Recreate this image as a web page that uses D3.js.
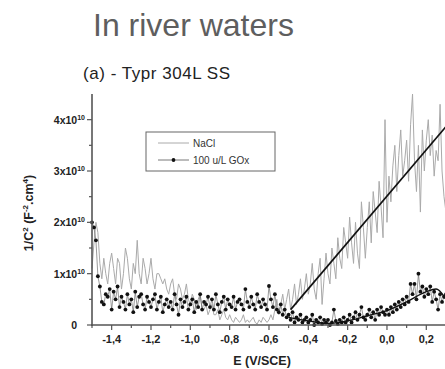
<!DOCTYPE html>
<html lang="en">
<head>
<meta charset="UTF-8"/>
<title>In river waters</title>
<script src="https://d3js.org/d3.v7.min.js"></script>
<style>
  body { margin: 0; background: #fff; }
  text { font-family: "Liberation Sans", Arial, sans-serif; }
</style>
</head>
<body>
<div id="chart"></div>
<script>
// potentials (V/SCE), one reading every 0.01 V from -1.50 to 0.30
const startE = -1.50, stepE = 0.01;

// 1/C^2 in units of 1e10 F^-2.cm^4
const naclValues = [
  1.1, 1.6, 2.0, 1.8, 1.2, 0.9, 1.3, 1.0, 0.8, 1.2,
  1.4, 1.1, 0.8, 1.3, 1.2, 0.7, 1.0, 1.5, 1.3, 0.9,
  0.7, 1.2, 1.0, 1.65, 1.0, 0.8, 1.3, 1.1, 0.8, 1.0,
  1.3, 0.9, 0.7, 1.0, 1.0, 0.9, 0.8, 0.9, 0.7, 0.6,
  0.8, 0.9, 0.6, 0.5, 0.8, 0.7, 0.5, 0.6, 0.8, 0.5,
  0.4, 0.6, 0.5, 0.3, 0.5, 0.6, 0.3, 0.3, 0.4, 0.2,
  0.3, 0.4, 0.2, 0.2, 0.3, 0.1, 0.2, 0.3, 0.15, 0.1,
  0.2, 0.1, 0.05, 0.15, 0.1, 0.05, 0.1, 0.2, 0.05, 0.1,
  0.05, 0.1, 0.15, 0.05, 0.02, 0.1, 0.05, 0.15, 0.1, 0.05,
  0.1, 0.2, 0.1, 0.3, 0.5, 0.2, 0.4, 0.6, 0.3, 0.5,
  0.7, 0.3, 0.5, 0.8, 0.4, 0.6, 0.9, 0.5, 0.7, 1.0,
  0.6, 0.8, 1.2, 0.7, 0.5, 1.0, 1.3, 0.4, 0.9, 1.4,
  1.0, 0.8, 1.5, 1.2, 0.9, 1.7, 1.3, 1.1, 1.9, 1.6,
  1.3, 2.1, 1.6, 1.2, 2.0, 1.4, 1.1, 2.4, 1.9, 1.3,
  1.9, 2.4, 1.6, 2.6, 2.2, 1.8, 2.8, 2.3, 1.7, 4.0,
  2.0, 2.9, 2.4, 3.1, 3.5, 2.6, 3.3, 3.8, 2.9, 3.2,
  3.6, 2.8, 3.9, 4.5, 3.2, 2.6, 3.5, 2.2, 3.8, 3.0,
  3.6, 4.0, 3.3, 3.7, 2.9, 3.4, 3.2, 4.3, 3.0, 2.5,
  2.2
];

const goxValues = [
  2.0, 1.9, 1.65, 0.95, 0.75, 0.45, 0.4, 0.6, 0.55, 0.7,
  0.3, 0.65, 0.5, 0.75, 0.35, 0.55, 0.45, 0.3, 0.6, 0.4,
  0.5, 0.25, 0.65, 0.35, 0.55, 0.6, 0.4, 0.3, 0.55, 0.45,
  0.35, 0.5, 0.6, 0.3, 0.45, 0.55, 0.25, 0.4, 0.5, 0.35,
  0.45, 0.3, 0.6, 0.4, 0.2, 0.5, 0.35, 0.45, 0.55, 0.3,
  0.4, 0.5, 0.25, 0.45, 0.35, 0.6, 0.3, 0.45, 0.4, 0.55,
  0.35, 0.5, 0.3, 0.6, 0.4, 0.25, 0.45, 0.55, 0.3, 0.5,
  0.4, 0.35, 0.55, 0.3, 0.45, 0.5, 0.4, 0.3, 0.7, 0.45,
  0.35, 0.55, 0.4, 0.3, 0.6, 0.45, 0.35, 0.5, 0.4, 0.3,
  0.76, 0.5, 0.35, 0.6, 0.3, 0.25, 0.4, 0.2, 0.3, 0.15,
  0.2, 0.1, 0.25, 0.05, 0.15, 0.1, 0.2, 0.05, 0.1, 0.15,
  0.05, 0.1, 0.2, 0.0, 0.1, 0.05, 0.15, 0.02, 0.1, 0.05,
  0.1, 0.0, 0.05, 0.3, 0.08, 0.02, 0.1, 0.05, 0.15, 0.05,
  0.1, 0.2, 0.05, 0.15, 0.25, 0.1, 0.2, 0.35, 0.15, 0.1,
  0.2, 0.3, 0.15, 0.25, 0.1, 0.3, 0.2, 0.35, 0.25, 0.2,
  0.3, 0.2, 0.35, 0.25, 0.4, 0.3, 0.45, 0.35, 0.5, 0.4,
  0.55, 0.45, 0.8, 0.6, 0.8, 0.5, 1.0, 0.65, 0.75, 0.55,
  0.7, 0.6, 0.75, 0.45, 0.65, 0.5, 0.3, 0.6, 0.45, 0.55,
  0.6
];

// straight Mott-Schottky fit on the NaCl curve
const naclFitE = [-0.49, 0.33];
const naclFitValues = [0.30, 4.0];

// smooth trend through the GOx points
const goxFitE = [-0.50, -0.40, -0.30, -0.20, -0.10, 0.00, 0.10, 0.20, 0.25, 0.30];
const goxFitValues = [0.15, 0.08, 0.03, 0.08, 0.18, 0.28, 0.45, 0.65, 0.70, 0.50];

const xTicks = [-1.4, -1.2, -1.0, -0.8, -0.6, -0.4, -0.2, 0.0, 0.2];
const yTicks = [0, 1, 2, 3, 4];

const W = 445, H = 369;
const svg = d3.select("#chart").append("svg")
  .attr("width", W).attr("height", H);

const x = d3.scaleLinear().domain([-1.5, 0.35]).range([92, 455.8]);
const y = d3.scaleLinear().domain([0, 4.5]).range([325, 94]);

const nacl = naclValues.map((v, i) => ({e: startE + i * stepE, v: v}));
const gox = goxValues.map((v, i) => ({e: startE + i * stepE, v: v}));

// titles
svg.append("text")
  .attr("x", 93).attr("y", 36)
  .attr("font-size", 32).attr("fill", "#5e5e5e")
  .text("In river waters");

svg.append("text")
  .attr("x", 83).attr("y", 79)
  .attr("font-size", 17).attr("fill", "#222")
  .attr("textLength", 147)
  .text("(a) - Typr 304L SS");

// data
const line = d3.line().x(d => x(d.e)).y(d => y(d.v));

svg.append("path")
  .datum(nacl)
  .attr("d", line)
  .attr("fill", "none")
  .attr("stroke", "#aaaaaa")
  .attr("stroke-width", 1);

svg.append("path")
  .datum(gox)
  .attr("d", line)
  .attr("fill", "none")
  .attr("stroke", "#555")
  .attr("stroke-width", 0.6);

svg.append("g").selectAll("circle")
  .data(gox)
  .join("circle")
    .attr("cx", d => x(d.e))
    .attr("cy", d => y(d.v))
    .attr("r", 1.9)
    .attr("fill", "#111");

svg.append("path")
  .datum(goxFitE.map((e, i) => ({e: e, v: goxFitValues[i]})))
  .attr("d", d3.line().curve(d3.curveMonotoneX).x(d => x(d.e)).y(d => y(d.v)))
  .attr("fill", "none")
  .attr("stroke", "#111")
  .attr("stroke-width", 1.4);

svg.append("path")
  .datum(naclFitE.map((e, i) => ({e: e, v: naclFitValues[i]})))
  .attr("d", line)
  .attr("fill", "none")
  .attr("stroke", "#111")
  .attr("stroke-width", 1.7);

// axes
const axisColor = "#555";
svg.append("line")
  .attr("x1", 92).attr("x2", 92).attr("y1", y(4.5)).attr("y2", 326)
  .attr("stroke", axisColor).attr("stroke-width", 1.6);
svg.append("line")
  .attr("x1", 91).attr("x2", W).attr("y1", 325).attr("y2", 325)
  .attr("stroke", axisColor).attr("stroke-width", 1.6);

const yMinor = d3.range(0.5, 4.5, 1);
svg.append("g").selectAll("line")
  .data(yTicks.concat(yMinor))
  .join("line")
    .attr("x1", d => yTicks.includes(d) ? 87 : 89).attr("x2", 92)
    .attr("y1", d => y(d)).attr("y2", d => y(d))
    .attr("stroke", axisColor).attr("stroke-width", 1.2);

const xMinor = d3.range(-1.5, 0.35, 0.2);
svg.append("g").selectAll("line")
  .data(xTicks.concat(xMinor))
  .join("line")
    .attr("x1", d => x(d)).attr("x2", d => x(d))
    .attr("y1", 325).attr("y2", (d, i) => i < xTicks.length ? 330 : 328)
    .attr("stroke", axisColor).attr("stroke-width", 1.2);

const fmt = d => d.toFixed(1).replace(".", ",");
svg.append("g").selectAll("text")
  .data(xTicks)
  .join("text")
    .attr("x", d => x(d)).attr("y", 343)
    .attr("text-anchor", "middle")
    .attr("font-size", 11).attr("font-weight", "bold").attr("fill", "#222")
    .text(fmt);

const yLab = svg.append("g").selectAll("text")
  .data(yTicks)
  .join("text")
    .attr("x", 85).attr("y", d => y(d) + 4)
    .attr("text-anchor", "end")
    .attr("font-size", 10.5).attr("font-weight", "bold").attr("fill", "#222");
yLab.each(function(d) {
  const t = d3.select(this);
  if (d === 0) { t.attr("x", 77).text("0"); return; }
  t.append("tspan").text(d + "x10");
  t.append("tspan").attr("dy", -4).attr("font-size", 7).text("10");
});

svg.append("text")
  .attr("x", 262).attr("y", 365)
  .attr("text-anchor", "middle")
  .attr("font-size", 12.5).attr("font-weight", "bold").attr("fill", "#222")
  .text("E (V/SCE)");

const yt = svg.append("text")
  .attr("transform", "translate(33,213) rotate(-90)")
  .attr("text-anchor", "middle")
  .attr("font-size", 12.5).attr("font-weight", "bold").attr("fill", "#222");
yt.append("tspan").text("1/C");
yt.append("tspan").attr("dy", -5).attr("font-size", 8).text("2");
yt.append("tspan").attr("dy", 5).text(" (F");
yt.append("tspan").attr("dy", -5).attr("font-size", 8).text("-2");
yt.append("tspan").attr("dy", 5).text(".cm");
yt.append("tspan").attr("dy", -5).attr("font-size", 8).text("4");
yt.append("tspan").attr("dy", 5).text(")");

// legend
const lg = svg.append("g");
lg.append("rect")
  .attr("x", 146).attr("y", 132).attr("width", 129).attr("height", 39)
  .attr("fill", "#fff").attr("stroke", "#666").attr("stroke-width", 1);
lg.append("line")
  .attr("x1", 158).attr("x2", 189).attr("y1", 143).attr("y2", 143)
  .attr("stroke", "#aaaaaa").attr("stroke-width", 1);
lg.append("line")
  .attr("x1", 158).attr("x2", 189).attr("y1", 160).attr("y2", 160)
  .attr("stroke", "#555").attr("stroke-width", 0.8);
lg.append("circle").attr("cx", 173.5).attr("cy", 160).attr("r", 1.9).attr("fill", "#111");
lg.append("text").attr("x", 193).attr("y", 146.5)
  .attr("font-size", 10).attr("fill", "#333").text("NaCl");
lg.append("text").attr("x", 193).attr("y", 163.5)
  .attr("font-size", 10).attr("fill", "#333").text("100 u/L GOx");
</script>
</body>
</html>
